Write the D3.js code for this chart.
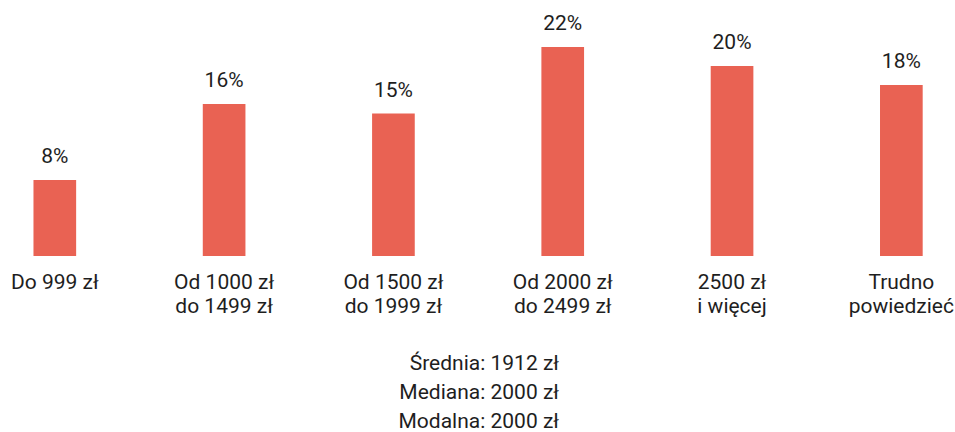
<!DOCTYPE html>
<html>
<head>
<meta charset="utf-8">
<script src="https://cdn.jsdelivr.net/npm/d3@7"></script>
<style>
  body { margin: 0; background: #fff; }
  svg text { font-family: Roboto, "Noto Sans", sans-serif; fill: #1e1e1e; }
</style>
</head>
<body>
<div id="chart"></div>
<script>
// data
const categories = [
  ["Do 999 zł"],
  ["Od 1000 zł", "do 1499 zł"],
  ["Od 1500 zł", "do 1999 zł"],
  ["Od 2000 zł", "do 2499 zł"],
  ["2500 zł", "i więcej"],
  ["Trudno", "powiedzieć"]
]
const values = [8, 16, 15, 22, 20, 18]
const summary = ["Średnia: 1912 zł", "Mediana: 2000 zł", "Modalna: 2000 zł"]

const WIDTH = 955
const HEIGHT = 432
const BASE = 256
const BAR_COLOR = "#e96253"
const FONT = "21px"

const svg = d3.select("#chart")
  .append("svg")
  .attr("width", WIDTH)
  .attr("height", HEIGHT)

// bands centred on each step
const x = d3.scaleBand()
  .domain(d3.range(categories.length))
  .range([-29.85, 986])
  .paddingInner(0.748)
  .paddingOuter(0.374)

const y = d3.scaleLinear()
  .domain([0, 22])
  .range([BASE, 47])

// bars
svg.selectAll(".bar")
  .data(values)
  .enter()
  .append("rect")
  .attr("class", "bar")
  .attr("x", (d, i) => x(i))
  .attr("width", x.bandwidth())
  .attr("y", d => y(d))
  .attr("height", d => BASE - y(d))
  .attr("fill", BAR_COLOR)

// value labels
svg.selectAll(".val")
  .data(values)
  .enter()
  .append("text")
  .attr("class", "val")
  .attr("x", (d, i) => x(i) + x.bandwidth() / 2)
  .attr("y", d => y(d) - 17)
  .attr("text-anchor", "middle")
  .style("font-size", FONT)
  .text(d => d + "%")

// category labels
const cat = svg.selectAll(".cat")
  .data(categories)
  .enter()
  .append("text")
  .attr("class", "cat")
  .attr("text-anchor", "middle")
  .style("font-size", FONT)

cat.selectAll("tspan")
  .data((d, i) => d.map(line => ({ line, i })))
  .enter()
  .append("tspan")
  .attr("x", d => x(d.i) + x.bandwidth() / 2)
  .attr("y", (d, j) => 289 + j * 24)
  .text(d => d.line)

// summary lines
svg.selectAll(".sum")
  .data(summary)
  .enter()
  .append("text")
  .attr("class", "sum")
  .attr("x", 559)
  .attr("y", (d, i) => 370 + i * 29)
  .attr("text-anchor", "end")
  .style("font-size", FONT)
  .text(d => d)
</script>
</body>
</html>
